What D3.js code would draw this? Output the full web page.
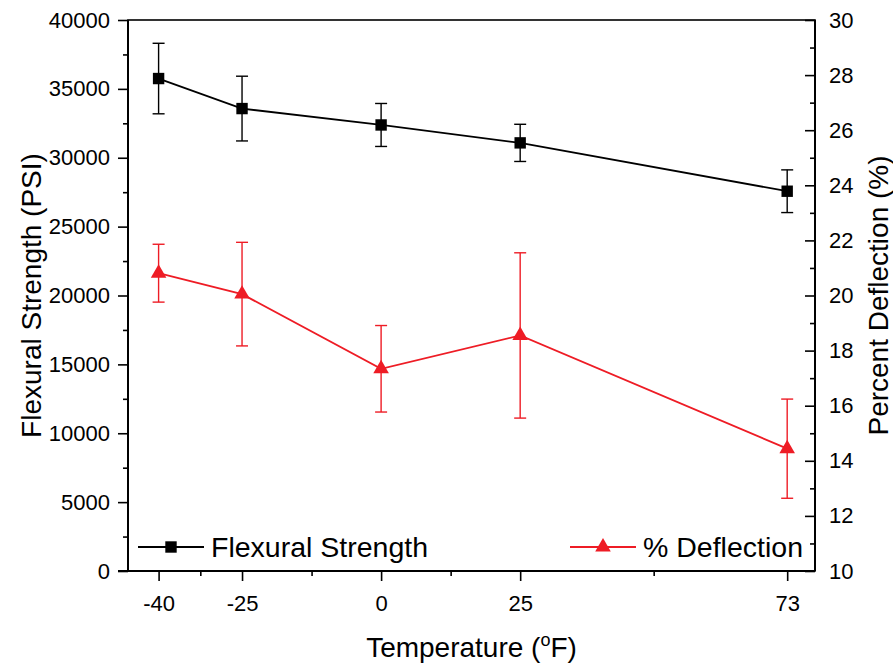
<!DOCTYPE html>
<html>
<head>
<meta charset="utf-8">
<title>Flexural strength vs temperature</title>
<script src="https://d3js.org/d3.v7.min.js"></script>
<style>
  body { margin: 0; background: #fff; }
  text { font-family: "Liberation Sans", Arial, sans-serif; fill: #000; }
</style>
</head>
<body>
<svg id="chart"></svg>
<script>
// data
const temps = [-40, -25, 0, 25, 73];
const strength = [35750, 33570, 32380, 31080, 27570];
const strengthErr = [2560, 2350, 1560, 1350, 1550];
const deflection = [20.81, 20.05, 17.34, 18.55, 14.44];
const deflectionErr = [1.05, 1.88, 1.57, 3.0, 1.8];
const xTicks = [-40, -25, 0, 25, 73];
const xMinor = [-32.5, -12.5, 12.5, 49];
const leftTicks = [0, 5000, 10000, 15000, 20000, 25000, 30000, 35000, 40000];
const rightTicks = [10, 12, 14, 16, 18, 20, 22, 24, 26, 28, 30];

const width = 893, height = 667;
const m = {left: 128, right: 815, top: 20, bottom: 571};
const red = "#ee1c25";
const fmt = d => String(d);   // plain hyphen for negatives, like the original

const svg = d3.select("#chart").attr("width", width).attr("height", height);

const x = d3.scaleLinear().domain([-45.5, 78]).range([m.left, m.right]);
const yL = d3.scaleLinear().domain([0, 40000]).range([m.bottom, m.top]);
const yR = d3.scaleLinear().domain([10, 30]).range([m.bottom, m.top]);

// frame
svg.append("rect")
  .attr("x", m.left).attr("y", m.top)
  .attr("width", m.right - m.left).attr("height", m.bottom - m.top)
  .attr("fill", "none").attr("stroke", "#000").attr("stroke-width", 1.6);

// bottom axis
const gx = svg.append("g").attr("transform", `translate(0,${m.bottom})`);
gx.call(d3.axisBottom(x).tickValues(xTicks).tickSize(10).tickPadding(10).tickFormat(fmt));
gx.append("g").call(d3.axisBottom(x).tickValues(xMinor).tickSize(5).tickFormat(""));

// left axis
const gl = svg.append("g").attr("transform", `translate(${m.left},0)`);
gl.call(d3.axisLeft(yL).tickValues(leftTicks).tickSize(10).tickPadding(8).tickFormat(fmt));
gl.append("g").call(d3.axisLeft(yL).tickValues(d3.range(2500, 40000, 5000)).tickSize(5).tickFormat(""));

// right axis, ticks pointing inward
const gr = svg.append("g").attr("transform", `translate(${m.right},0)`);
gr.call(d3.axisRight(yR).tickValues(rightTicks).tickSize(-10).tickPadding(14).tickFormat(fmt));
gr.append("g").call(d3.axisRight(yR).tickValues(d3.range(11, 30, 2)).tickSize(-5).tickFormat(""));

svg.selectAll(".domain").attr("stroke", "none");
svg.selectAll(".tick line").attr("stroke", "#000").attr("stroke-width", 1.6);
svg.selectAll(".tick text").style("font-size", "22px").attr("fill", "#000");
gx.selectAll(".tick text").attr("dy", "0.9em");

// axis lines drawn heavier
svg.append("line").attr("x1", m.left - 10).attr("x2", m.right).attr("y1", m.bottom).attr("y2", m.bottom)
  .attr("stroke", "#000").attr("stroke-width", 2);
svg.append("line").attr("x1", m.left).attr("x2", m.left).attr("y1", m.top).attr("y2", m.bottom)
  .attr("stroke", "#000").attr("stroke-width", 2);
svg.append("line").attr("x1", m.right).attr("x2", m.right).attr("y1", m.top).attr("y2", m.bottom)
  .attr("stroke", "#000").attr("stroke-width", 2);

// axis titles
const xt = svg.append("text").attr("x", (m.left + m.right) / 2).attr("y", 657)
  .attr("text-anchor", "middle").style("font-size", "28px");
xt.append("tspan").text("Temperature (");
xt.append("tspan").text("o").attr("dy", -11).style("font-size", "18px");
xt.append("tspan").text("F)").attr("dy", 11);

svg.append("text")
  .attr("transform", `translate(41,${(m.top + m.bottom) / 2}) rotate(-90)`)
  .attr("text-anchor", "middle").style("font-size", "28px")
  .text("Flexural Strength (PSI)");

svg.append("text")
  .attr("transform", `translate(888,${(m.top + m.bottom) / 2}) rotate(-90)`)
  .attr("text-anchor", "middle").style("font-size", "28px")
  .text("Percent Deflection (%)");

const rows = temps.map((t, i) => ({t, s: strength[i], se: strengthErr[i], d: deflection[i], de: deflectionErr[i]}));

function drawSeries(key, errKey, y, color, symbolType, symSize) {
  const g = svg.append("g");
  const line = d3.line().x(d => x(d.t)).y(d => y(d[key]));
  g.append("path").datum(rows).attr("d", line)
    .attr("fill", "none").attr("stroke", color).attr("stroke-width", 1.8);
  const eb = g.selectAll(".eb").data(rows).enter().append("g")
    .attr("stroke", color).attr("stroke-width", 1.4);
  eb.append("line")
    .attr("x1", d => x(d.t)).attr("x2", d => x(d.t))
    .attr("y1", d => y(d[key] + d[errKey])).attr("y2", d => y(d[key] - d[errKey]));
  [1, -1].forEach(sgn => {
    eb.append("line")
      .attr("x1", d => x(d.t) - 6).attr("x2", d => x(d.t) + 6)
      .attr("y1", d => y(d[key] + sgn * d[errKey])).attr("y2", d => y(d[key] + sgn * d[errKey]));
  });
  g.selectAll(".mk").data(rows).enter().append("path")
    .attr("d", d3.symbol().type(symbolType).size(symSize))
    .attr("transform", d => `translate(${x(d.t)},${y(d[key])})`)
    .attr("fill", color);
}

drawSeries("s", "se", yL, "#000", d3.symbolSquare, 130);
drawSeries("d", "de", yR, red, d3.symbolTriangle, 105);

// legend
const legend = [
  {label: "Flexural Strength", color: "#000", sym: d3.symbolSquare, size: 130, x0: 138},
  {label: "% Deflection", color: red, sym: d3.symbolTriangle, size: 105, x0: 570}
];
const ly = 547;
legend.forEach(l => {
  svg.append("line").attr("x1", l.x0).attr("x2", l.x0 + 66).attr("y1", ly).attr("y2", ly)
    .attr("stroke", l.color).attr("stroke-width", 1.8);
  svg.append("path").attr("d", d3.symbol().type(l.sym).size(l.size)())
    .attr("transform", `translate(${l.x0 + 33},${ly})`).attr("fill", l.color);
  svg.append("text").attr("x", l.x0 + 73).attr("y", ly + 10)
    .style("font-size", "28.5px").text(l.label);
});
</script>
</body>
</html>
